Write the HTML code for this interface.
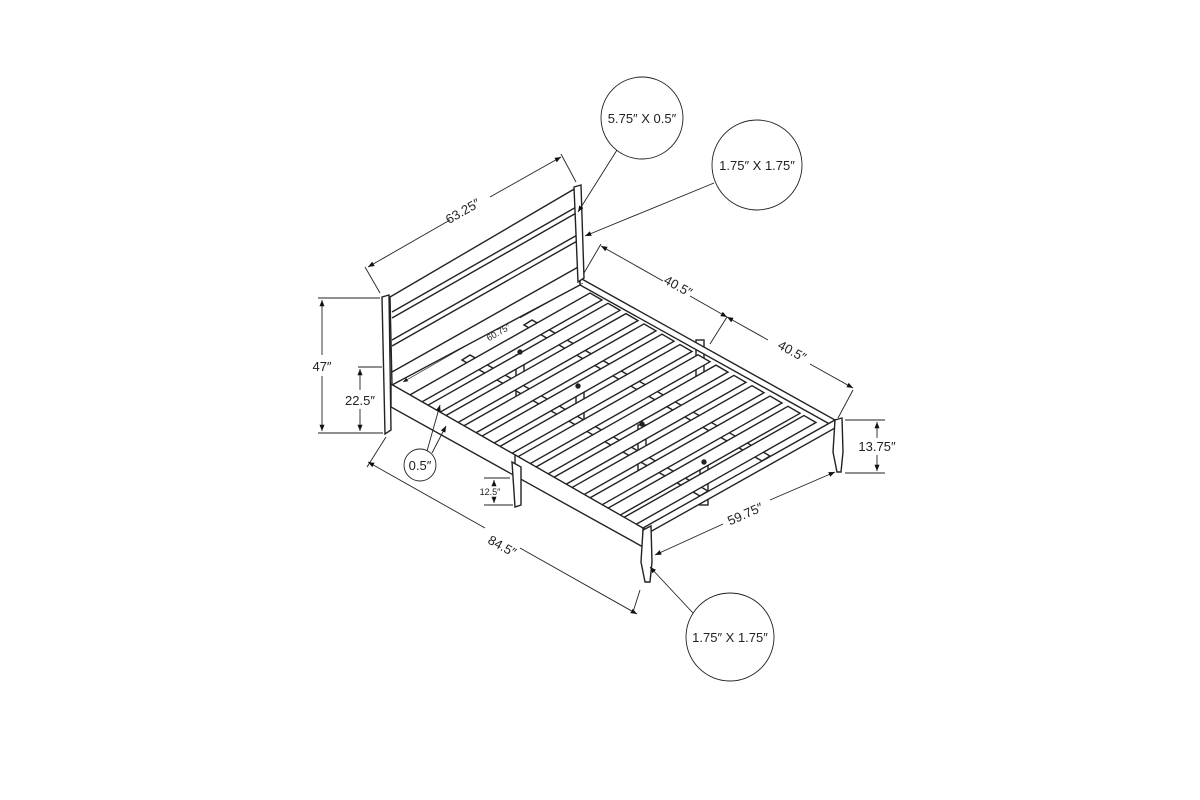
<!DOCTYPE html>
<html><head><meta charset="utf-8"><style>
html,body{margin:0;padding:0;background:#fff;}
svg{display:block;}
text{font-family:"Liberation Sans",sans-serif;fill:#222;}
</style></head><body>
<svg width="1200" height="800" viewBox="0 0 1200 800" xmlns="http://www.w3.org/2000/svg">
<defs>
<marker id="a" viewBox="0 0 10 10" refX="10" refY="5" markerWidth="7" markerHeight="7" orient="auto-start-reverse"><path d="M0,1 L10,5 L0,9 z" fill="#111"/></marker>
<polygon id="slat" points="0,0 182,-103 194,-96 12,7" fill="#fff" stroke="#222" stroke-width="1.4"/>
</defs>
<g stroke="#222" stroke-width="1.4" fill="none">
<!-- center support posts -->
<rect x="516" y="355" width="8" height="42" fill="#fff"/>
<rect x="576" y="390" width="8" height="40" fill="#fff"/>
<rect x="638" y="425" width="8" height="45" fill="#fff"/>
<rect x="700" y="465" width="8" height="40" fill="#fff"/>
<rect x="696" y="340" width="8" height="42" fill="#fff"/>
<!-- right rail -->
<polygon points="580,278 835,420 835,427 580,285" fill="#fff"/>
<!-- support beams under slats -->
<polygon points="462,360 700,496 708,491 470,355" fill="#fff"/>
<polygon points="524,325 762,461 770,456 532,320" fill="#fff"/>
<!-- headboard -->
<polygon points="390,297 576,188 580,285 392,385" fill="#fff"/>
<line x1="392" y1="312" x2="578" y2="206"/>
<line x1="392" y1="318" x2="578" y2="212"/>
<line x1="392" y1="340" x2="579" y2="234"/>
<line x1="392" y1="346" x2="579" y2="240"/>
<line x1="392" y1="372" x2="580" y2="266"/>
<polygon points="574,187 581,185 584,278 578,282" fill="#fff"/>
<polygon points="382,297 389,295 391,430 385,434" fill="#fff"/>
<!-- slats -->
<g>
<use href="#slat" transform="translate(408,396)"/>
<use href="#slat" transform="translate(426,406.3)"/>
<use href="#slat" transform="translate(444,416.6)"/>
<use href="#slat" transform="translate(462,426.9)"/>
<use href="#slat" transform="translate(480,437.2)"/>
<use href="#slat" transform="translate(498,447.5)"/>
<use href="#slat" transform="translate(516,457.8)"/>
<use href="#slat" transform="translate(534,468.1)"/>
<use href="#slat" transform="translate(552,478.4)"/>
<use href="#slat" transform="translate(570,488.7)"/>
<use href="#slat" transform="translate(588,499)"/>
<use href="#slat" transform="translate(606,509.3)"/>
<use href="#slat" transform="translate(622,518.5)"/>
</g>
<circle cx="520" cy="352" r="2" fill="#222"/>
<circle cx="578" cy="386" r="2" fill="#222"/>
<circle cx="642" cy="424" r="2" fill="#222"/>
<circle cx="704" cy="462" r="2" fill="#222"/>
<!-- left side rail -->
<polygon points="391,384 643,528 643,547 391,407" fill="#fff"/>
<line x1="515" y1="455" x2="515" y2="475"/>
<!-- foot rail -->
<polygon points="643,528 835,420 835,428 650,532" fill="#fff"/>
<!-- legs -->
<polygon points="512,462 521,467 521,505 515,507" fill="#fff"/>
<polygon points="643,530 651,526 652,562 650,582 645,582 641,562" fill="#fff"/>
<polygon points="835,420 842,418 843,452 841,472 837,472 833,452" fill="#fff"/>
</g>
<!-- dimension lines -->
<g stroke="#222" stroke-width="0.9" fill="none">
<line x1="380" y1="293" x2="365" y2="267"/>
<line x1="576" y1="182" x2="561" y2="154"/>
<line x1="368" y1="267" x2="450" y2="220" marker-start="url(#a)"/>
<line x1="490" y1="197" x2="561" y2="157" marker-end="url(#a)"/>
<line x1="318" y1="298" x2="380" y2="298"/>
<line x1="318" y1="433" x2="383" y2="433"/>
<line x1="322" y1="300" x2="322" y2="355" marker-start="url(#a)"/>
<line x1="322" y1="376" x2="322" y2="431" marker-end="url(#a)"/>
<line x1="358" y1="367" x2="382" y2="367"/>
<line x1="360" y1="369" x2="360" y2="390" marker-start="url(#a)"/>
<line x1="360" y1="409" x2="360" y2="431" marker-end="url(#a)"/>
<line x1="386" y1="437" x2="367" y2="467"/>
<line x1="368" y1="462" x2="485" y2="528" marker-start="url(#a)"/>
<line x1="520" y1="548" x2="637" y2="614" marker-end="url(#a)"/>
<line x1="640" y1="590" x2="633" y2="612"/>
<line x1="403" y1="382" x2="478" y2="339" marker-start="url(#a)" stroke-width="0.7"/>
<line x1="520" y1="318" x2="583" y2="283" stroke-width="0.7"/>
<line x1="584" y1="273" x2="601" y2="244"/>
<line x1="601" y1="246" x2="663" y2="281" marker-start="url(#a)"/>
<line x1="690" y1="296" x2="727" y2="317" marker-end="url(#a)"/>
<line x1="727" y1="317" x2="710" y2="344"/>
<line x1="727" y1="317" x2="768" y2="340" marker-start="url(#a)"/>
<line x1="810" y1="364" x2="853" y2="388" marker-end="url(#a)"/>
<line x1="853" y1="390" x2="838" y2="418"/>
<line x1="845" y1="420" x2="885" y2="420"/>
<line x1="845" y1="473" x2="885" y2="473"/>
<line x1="877" y1="422" x2="877" y2="438" marker-start="url(#a)"/>
<line x1="877" y1="455" x2="877" y2="471" marker-end="url(#a)"/>
<line x1="484" y1="478" x2="510" y2="478"/>
<line x1="484" y1="505" x2="513" y2="505"/>
<line x1="494" y1="480" x2="494" y2="485" marker-start="url(#a)"/>
<line x1="494" y1="498" x2="494" y2="503" marker-end="url(#a)"/>
<line x1="655" y1="555" x2="723" y2="524" marker-start="url(#a)"/>
<line x1="770" y1="500" x2="835" y2="472" marker-end="url(#a)"/>
<!-- callouts -->
<circle cx="642" cy="118" r="41"/>
<circle cx="757" cy="165" r="45"/>
<circle cx="730" cy="637" r="44"/>
<circle cx="420" cy="465" r="16"/>
<line x1="617" y1="150" x2="578" y2="212" marker-end="url(#a)"/>
<line x1="714" y1="183" x2="585" y2="236" marker-end="url(#a)"/>
<line x1="693" y1="613" x2="650" y2="567" marker-end="url(#a)"/>
<line x1="427" y1="451" x2="440" y2="405" marker-end="url(#a)"/>
<line x1="432" y1="453" x2="446" y2="426" marker-end="url(#a)"/>
</g>
<!-- labels -->
<g font-size="13">
<text x="465" y="215" transform="rotate(-30 465 215)" text-anchor="middle">63.25″</text>
<text x="500" y="335" transform="rotate(-30 500 335)" text-anchor="middle" font-size="9">60.75″</text>
<text x="676" y="290" transform="rotate(29 676 290)" text-anchor="middle">40.5″</text>
<text x="790" y="355" transform="rotate(29 790 355)" text-anchor="middle">40.5″</text>
<text x="500" y="550" transform="rotate(29 500 550)" text-anchor="middle">84.5″</text>
<text x="747" y="518" transform="rotate(-24 747 518)" text-anchor="middle">59.75″</text>
<text x="322" y="371" text-anchor="middle">47″</text>
<text x="360" y="405" text-anchor="middle">22.5″</text>
<text x="877" y="451" text-anchor="middle">13.75″</text>
<text x="490" y="495" text-anchor="middle" font-size="9">12.5″</text>
<text x="420" y="470" text-anchor="middle">0.5″</text>
<text x="642" y="123" text-anchor="middle">5.75″ X 0.5″</text>
<text x="757" y="170" text-anchor="middle">1.75″ X 1.75″</text>
<text x="730" y="642" text-anchor="middle">1.75″ X 1.75″</text>
</g>
</svg>
</body></html>
